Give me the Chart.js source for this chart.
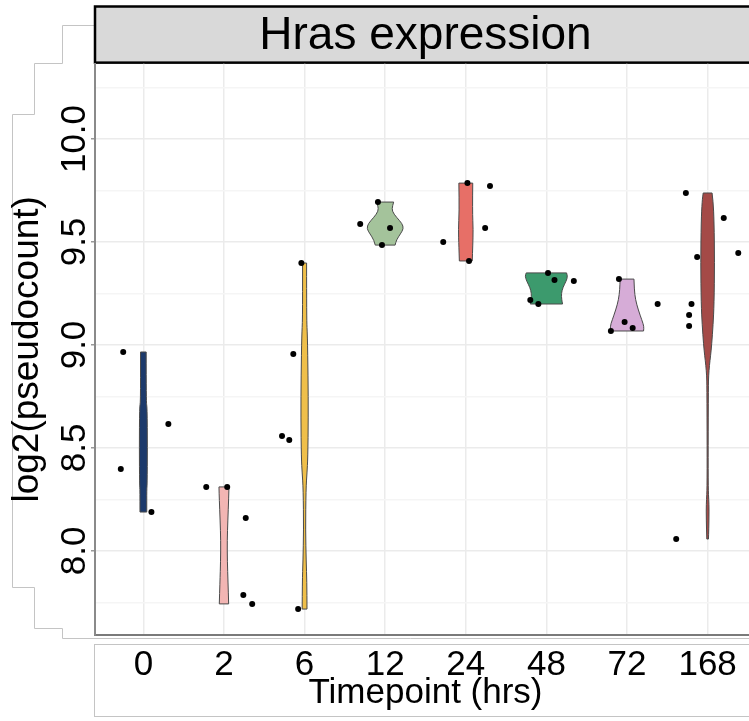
<!DOCTYPE html>
<html>
<head>
<meta charset="utf-8">
<script src="https://cdn.jsdelivr.net/npm/chart.js@4/dist/chart.umd.min.js"></script>
<style>
  html, body { margin: 0; padding: 0; background: #fff; }
  #wrap { width: 749px; height: 721px; overflow: hidden; position: relative; }
  canvas { display: block; }
</style>
</head>
<body>
<div id="wrap"><canvas id="chart" width="759" height="721"></canvas></div>
<script>
// timepoints on the x axis
const timepoints = ['0', '2', '6', '12', '24', '48', '72', '168'];

// log2(pseudocount) of each sample, per timepoint
const pointValues = [
    [8.966, 8.617, 8.398, 8.189],
    [8.311, 8.311, 8.160, 7.786, 7.743],
    [9.398, 8.956, 8.558, 8.539, 7.718],
    [9.694, 9.587, 9.568, 9.485],
    [9.786, 9.772, 9.568, 9.500, 9.408],
    [9.350, 9.316, 9.311, 9.218, 9.199],
    [9.320, 9.199, 9.112, 9.083, 9.068],
    [9.738, 9.617, 9.447, 9.427, 9.199, 9.146, 9.092, 8.058]
];
// horizontal jitter of each sample (category units)
const pointJitter = [
    [-0.25, 0.31, -0.28, 0.10],
    [-0.22, 0.04, 0.27, 0.24, 0.35],
    [-0.04, -0.14, -0.28, -0.19, -0.08],
    [-0.09, -0.31, 0.06, -0.04],
    [0.02, 0.30, 0.24, -0.28, 0.04],
    [0.02, 0.10, 0.34, -0.20, -0.10],
    [-0.10, 0.38, -0.03, 0.07, -0.20],
    [-0.27, 0.20, 0.38, -0.13, -0.20, -0.23, -0.23, -0.39]
];

// violin outlines: levels (top to bottom) and half width (category units)
const violinLevels = [
    [8.966, 8.72, 8.70, 8.5, 8.32, 8.30, 8.189],
    [8.311, 8.25, 8.15, 8.05, 7.95, 7.85, 7.743],
    [9.398, 9.12, 9.05, 8.85, 8.65, 8.45, 8.38, 8.3, 8.1, 7.95, 7.85, 7.718],
    [9.694, 9.675, 9.65, 9.62, 9.59, 9.565, 9.54, 9.51, 9.485],
    [9.786, 9.65, 9.56, 9.48, 9.408],
    [9.35, 9.335, 9.31, 9.28, 9.25, 9.22, 9.199],
    [9.32, 9.27, 9.22, 9.17, 9.12, 9.09, 9.068],
    [9.738, 9.70, 9.6, 9.4, 9.2, 9.1, 9.0, 8.95, 8.9, 8.85, 8.8, 8.5, 8.3, 8.25, 8.2, 8.1, 8.058]
];
const violinWidths = [
    [0.035, 0.035, 0.047, 0.050, 0.047, 0.042, 0.042],
    [0.062, 0.058, 0.048, 0.040, 0.042, 0.050, 0.058],
    [0.025, 0.025, 0.035, 0.043, 0.046, 0.040, 0.030, 0.017, 0.012, 0.020, 0.028, 0.030],
    [0.105, 0.090, 0.085, 0.140, 0.210, 0.228, 0.190, 0.140, 0.123],
    [0.086, 0.082, 0.092, 0.086, 0.080],
    [0.250, 0.265, 0.245, 0.205, 0.185, 0.190, 0.200],
    [0.086, 0.090, 0.105, 0.140, 0.185, 0.210, 0.205],
    [0.055, 0.068, 0.080, 0.086, 0.080, 0.068, 0.050, 0.037, 0.022, 0.012, 0.009, 0.006, 0.007, 0.014, 0.018, 0.014, 0.010]
];
const violinColors = ['#1c3a6c', '#f2b5b3', '#efbf4a', '#a4c39b', '#e76f67', '#3c9a6d', '#d6acd7', '#a44a47'];

const yTicks = [7.75, 8.0, 8.25, 8.5, 8.75, 9.0, 9.25, 9.5, 9.75, 10.0, 10.25];
const yTickLabels = ['', '8.0', '', '8.5', '', '9.0', '', '9.5', '', '10.0', ''];

const FONT = 'Liberation Sans, Arial, sans-serif';

const points = pointValues.flatMap((vals, i) =>
    vals.map((v, k) => ({ x: i + pointJitter[i][k], y: v })));

// smooth one side of a violin through its outline points
const side = (ctx, pts) => {
    ctx.lineTo(pts[0][0], pts[0][1]);
    for (let k = 1; k < pts.length - 1; k++) {
        const mx = (pts[k][0] + pts[k + 1][0]) / 2;
        const my = (pts[k][1] + pts[k + 1][1]) / 2;
        ctx.quadraticCurveTo(pts[k][0], pts[k][1], mx, my);
    }
    const last = pts[pts.length - 1];
    ctx.lineTo(last[0], last[1]);
};

const violinPlugin = {
    id: 'violins',
    beforeDatasetsDraw(chart) {
        const { ctx, chartArea, scales: { x, y } } = chart;
        ctx.save();
        ctx.beginPath();
        ctx.rect(chartArea.left, chartArea.top, chartArea.right - chartArea.left, chartArea.bottom - chartArea.top);
        ctx.clip();
        violinLevels.forEach((levels, i) => {
            const right = levels.map((v, k) => [x.getPixelForValue(i + violinWidths[i][k]), y.getPixelForValue(v)]);
            const left = levels.map((v, k) => [x.getPixelForValue(i - violinWidths[i][k]), y.getPixelForValue(v)]).reverse();
            ctx.beginPath();
            ctx.moveTo(left[left.length - 1][0], left[left.length - 1][1]);
            side(ctx, right);
            side(ctx, left);
            ctx.closePath();
            ctx.fillStyle = violinColors[i];
            ctx.fill();
            ctx.lineWidth = 1;
            ctx.strokeStyle = '#4a4a4a';
            ctx.stroke();
        });
        ctx.restore();
    }
};

// facet strip, framing lines and rotated y tick labels
const framePlugin = {
    id: 'frame',
    beforeDraw(chart) {
        const { ctx, chartArea } = chart;
        ctx.save();
        ctx.fillStyle = '#fff';
        ctx.fillRect(0, 0, chart.width, chart.height);

        ctx.strokeStyle = '#c4c4c4';
        ctx.lineWidth = 1;
        ctx.beginPath();
        ctx.moveTo(chartArea.left, 25.5);
        ctx.lineTo(62.5, 25.5);
        ctx.lineTo(62.5, 63.5);
        ctx.lineTo(34.5, 63.5);
        ctx.lineTo(34.5, 114.5);
        ctx.lineTo(12.5, 114.5);
        ctx.lineTo(12.5, 587.5);
        ctx.lineTo(34.5, 587.5);
        ctx.lineTo(34.5, 628.5);
        ctx.lineTo(62.5, 628.5);
        ctx.lineTo(62.5, 638.5);
        ctx.lineTo(chart.width, 638.5);
        ctx.stroke();

        ctx.strokeRect(chartArea.left - 0.5, 644.5, chart.width, 72);

        ctx.fillStyle = '#d9d9d9';
        ctx.fillRect(chartArea.left, 6.5, chartArea.right - chartArea.left, chartArea.top - 6.5);
        ctx.strokeStyle = '#000';
        ctx.lineWidth = 2.5;
        ctx.strokeRect(chartArea.left, 6.5, chartArea.right - chartArea.left, chartArea.top - 7.5);
        ctx.restore();
    },
    afterDraw(chart) {
        const { ctx, chartArea, scales: { y } } = chart;
        ctx.save();
        ctx.fillStyle = '#000';
        ctx.font = `35px ${FONT}`;
        ctx.textAlign = 'center';
        ctx.textBaseline = 'middle';
        yTicks.forEach((v, k) => {
            if (!yTickLabels[k]) return;
            ctx.save();
            ctx.translate(chartArea.left - 20, y.getPixelForValue(v));
            ctx.rotate(-Math.PI / 2);
            ctx.fillText(yTickLabels[k], 0, 0);
            ctx.restore();
        });
        ctx.restore();
    }
};

new Chart(document.getElementById('chart'), {
    type: 'scatter',
    data: {
        datasets: [{
            data: points,
            backgroundColor: '#000',
            borderWidth: 0,
            pointRadius: 3,
            pointHoverRadius: 3
        }]
    },
    options: {
        responsive: false,
        animation: false,
        events: [],
        layout: { padding: { top: 6.5, left: 0, right: 0, bottom: 0 } },
        plugins: {
            legend: { display: false },
            tooltip: { enabled: false },
            title: {
                display: true,
                text: 'Hras expression',
                fullSize: false,
                color: '#000',
                font: { family: FONT, size: 46, weight: 'normal', lineHeight: 1.09 },
                padding: { top: 5, bottom: 2 }
            }
        },
        scales: {
            x: {
                type: 'linear',
                min: -0.6,
                max: 7.6,
                afterBuildTicks: s => { s.ticks = timepoints.map((t, i) => ({ value: i })); },
                afterFit: s => { s.height = 86; },
                ticks: {
                    callback: v => timepoints[v],
                    color: '#000',
                    font: { family: FONT, size: 35 },
                    padding: 9,
                    maxRotation: 0,
                    autoSkip: false
                },
                grid: { color: '#ebebeb', lineWidth: 1.5, drawTicks: false },
                border: { color: '#7a7a7a', width: 2 },
                title: {
                    display: true,
                    text: 'Timepoint (hrs)',
                    color: '#000',
                    font: { family: FONT, size: 35, lineHeight: 1 },
                    padding: { top: 0, bottom: 10 }
                }
            },
            y: {
                min: 7.592,
                max: 10.366,
                afterBuildTicks: s => { s.ticks = yTicks.map(v => ({ value: v })); },
                afterFit: s => { s.width = 95; },
                ticks: { display: false },
                grid: {
                    color: c => (c.tick && yTickLabels[yTicks.indexOf(c.tick.value)]) ? '#ebebeb' : '#f5f5f5',
                    tickColor: c => (c.tick && yTickLabels[yTicks.indexOf(c.tick.value)]) ? '#999' : 'rgba(0,0,0,0)',
                    lineWidth: 1.5,
                    tickLength: 4
                },
                border: { color: '#8a8a8a', width: 2 },
                title: {
                    display: true,
                    text: 'log2(pseudocount)',
                    color: '#000',
                    font: { family: FONT, size: 37, lineHeight: 1 },
                    padding: { top: 9, bottom: 0 }
                }
            }
        }
    },
    plugins: [framePlugin, violinPlugin]
});
</script>
</body>
</html>
